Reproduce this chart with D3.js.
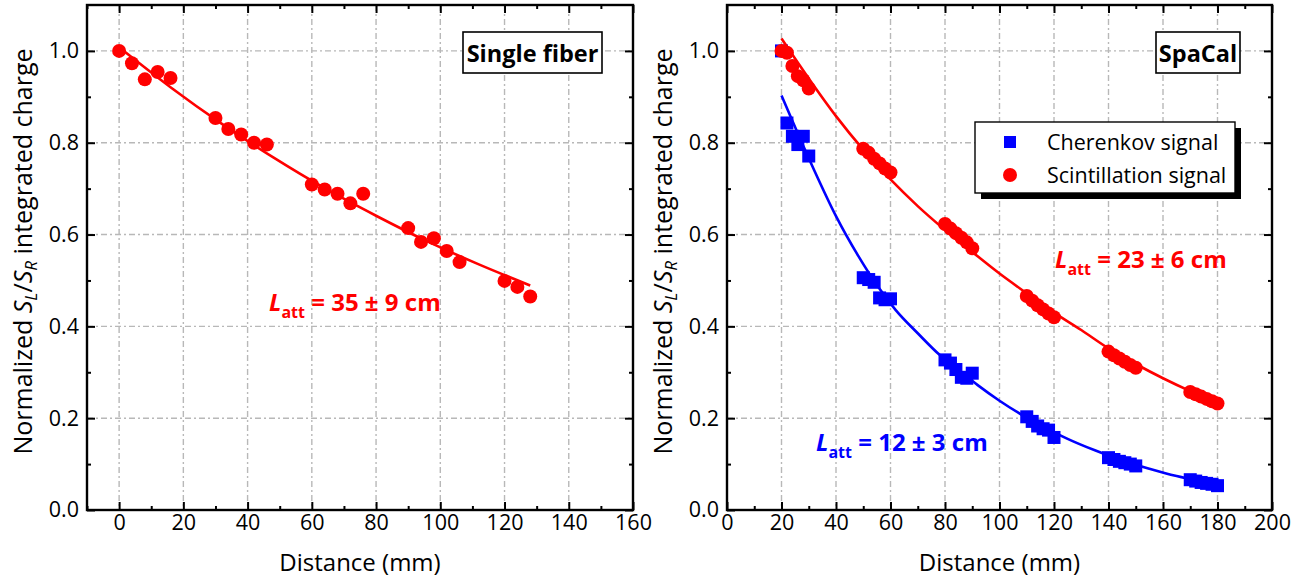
<!DOCTYPE html>
<html>
<head>
<meta charset="utf-8">
<script src="https://cdn.jsdelivr.net/npm/d3@7"></script>
<style>
  html, body { margin: 0; padding: 0; background: #fff; }
  svg { display: block; font-family: 'Open Sans', sans-serif; }
</style>
</head>
<body>
<svg id="chart" width="1313" height="585"></svg>
<script>
// ---- data ----
// single fiber
const fiberDist = [0, 4, 8, 12, 16, 30, 34, 38, 42, 46, 60, 64, 68, 72, 76, 90, 94, 98, 102, 106, 120, 124, 128];
const fiberVal = [1.0, 0.973, 0.938, 0.954, 0.941, 0.854, 0.83, 0.818, 0.8, 0.796, 0.709, 0.698, 0.689, 0.668, 0.689, 0.614, 0.584, 0.592, 0.564, 0.54, 0.499, 0.486, 0.465];
const fiberFitDist = [0, 16, 32, 48, 64, 80, 96, 112, 128];
const fiberFitVal = [1.008, 0.921, 0.841, 0.768, 0.701, 0.641, 0.585, 0.535, 0.489];

// SpaCal
const spacalDist = [20, 22, 24, 26, 28, 30, 50, 52, 54, 56, 58, 60, 80, 82, 84, 86, 88, 90,
                    110, 112, 114, 116, 118, 120, 140, 142, 144, 146, 148, 150, 170, 172, 174, 176, 178, 180];
const scintVal = [1.0, 0.996, 0.967, 0.945, 0.936, 0.918, 0.787, 0.778, 0.765, 0.755, 0.744, 0.735,
                  0.623, 0.613, 0.603, 0.593, 0.583, 0.57, 0.466, 0.456, 0.446, 0.437, 0.428, 0.42,
                  0.345, 0.337, 0.33, 0.323, 0.316, 0.31, 0.257, 0.252, 0.247, 0.242, 0.237, 0.232];
const cherVal = [1.0, 0.843, 0.814, 0.796, 0.814, 0.771, 0.506, 0.502, 0.496, 0.462, 0.458, 0.46,
                 0.327, 0.32, 0.306, 0.289, 0.287, 0.298, 0.203, 0.193, 0.183, 0.177, 0.174, 0.158,
                 0.114, 0.11, 0.106, 0.103, 0.1, 0.096, 0.066, 0.063, 0.06, 0.058, 0.056, 0.053];
const scintFitDist = [20, 30, 40, 50, 60, 70, 80, 90, 100, 110, 120, 130, 140, 150, 160, 170, 180];
const scintFitVal = [1.027, 0.94, 0.858, 0.785, 0.72, 0.662, 0.61, 0.562, 0.515, 0.472, 0.43, 0.392, 0.352, 0.318, 0.287, 0.259, 0.234];
const cherFitDist = [20, 26, 32, 40, 48, 55, 62, 70, 78, 85, 92, 100, 108, 115, 125, 135, 145, 155, 165, 175, 180];
const cherFitVal = [0.903, 0.82, 0.74, 0.64, 0.555, 0.49, 0.435, 0.385, 0.338, 0.305, 0.272, 0.238, 0.208, 0.185, 0.155, 0.13, 0.108, 0.09, 0.074, 0.061, 0.055];

// ticks
const yMajor = [0, 0.2, 0.4, 0.6, 0.8, 1.0];
const yMinor = [0.1, 0.3, 0.5, 0.7, 0.9];
const fiberXMajor = [0, 20, 40, 60, 80, 100, 120, 140, 160];
const fiberXMinor = [-10, 10, 30, 50, 70, 90, 110, 130, 150];
const spacalXMajor = [0, 20, 40, 60, 80, 100, 120, 140, 160, 180, 200];
const spacalXMinor = [10, 30, 50, 70, 90, 110, 130, 150, 170, 190];

const RED = "#ff0000", BLUE = "#0000ff", GRID = "#b8b8b8";
const TOP = 5, BOTTOM = 510;
const svg = d3.select("#chart");

function panel(o) {
  const x = d3.scaleLinear().domain(o.xDomain).range([o.left, o.right]);
  const y = d3.scaleLinear().domain([0, 1.1]).range([BOTTOM, TOP]);
  const g = svg.append("g");

  // dash-dot grid
  const grid = g.append("g").attr("stroke", GRID).attr("stroke-width", 1.4)
    .attr("stroke-dasharray", "6,3,2,3").attr("fill", "none");
  grid.selectAll(".gx").data(o.xMajor.filter(v => v > o.xDomain[0] && v < o.xDomain[1]))
    .join("line").attr("x1", d => x(d)).attr("x2", d => x(d)).attr("y1", TOP).attr("y2", BOTTOM);
  grid.selectAll(".gy").data(yMajor.filter(v => v > 0))
    .join("line").attr("y1", d => y(d)).attr("y2", d => y(d)).attr("x1", o.left).attr("x2", o.right);

  // axes, ticks pointing inward
  const tickStyle = sel => {
    sel.select(".domain").remove();
    sel.selectAll(".tick line").attr("stroke", "#000").attr("stroke-width", 2);
    sel.selectAll("text").attr("font-size", 21.5).attr("fill", "#000").attr("font-family", "'Open Sans', sans-serif");
  };
  g.append("g").attr("transform", `translate(0,${BOTTOM})`)
    .call(d3.axisBottom(x).tickValues(o.xMajor).tickSize(-8).tickPadding(5).tickFormat(d3.format("d")))
    .call(tickStyle);
  g.append("g").attr("transform", `translate(0,${BOTTOM})`)
    .call(d3.axisBottom(x).tickValues(o.xMinor).tickSize(-4).tickFormat("")).call(tickStyle);
  g.append("g").attr("transform", `translate(0,${TOP})`)
    .call(d3.axisTop(x).tickValues(o.xMajor).tickSize(-8).tickFormat("")).call(tickStyle);
  g.append("g").attr("transform", `translate(0,${TOP})`)
    .call(d3.axisTop(x).tickValues(o.xMinor).tickSize(-4).tickFormat("")).call(tickStyle);
  g.append("g").attr("transform", `translate(${o.left},0)`)
    .call(d3.axisLeft(y).tickValues(yMajor).tickSize(-8).tickPadding(8).tickFormat(d3.format(".1f")))
    .call(tickStyle);
  g.append("g").attr("transform", `translate(${o.left},0)`)
    .call(d3.axisLeft(y).tickValues(yMinor).tickSize(-4).tickFormat("")).call(tickStyle);
  g.append("g").attr("transform", `translate(${o.right},0)`)
    .call(d3.axisRight(y).tickValues(yMajor).tickSize(-8).tickFormat("")).call(tickStyle);
  g.append("g").attr("transform", `translate(${o.right},0)`)
    .call(d3.axisRight(y).tickValues(yMinor).tickSize(-4).tickFormat("")).call(tickStyle);

  g.append("rect").attr("x", o.left).attr("y", TOP).attr("width", o.right - o.left).attr("height", BOTTOM - TOP)
    .attr("fill", "none").attr("stroke", "#000").attr("stroke-width", 2.4);

  // axis titles
  g.append("text").attr("x", (o.left + o.right) / 2).attr("y", 571).attr("text-anchor", "middle")
    .attr("font-size", 24).text("Distance (mm)");
  const yt = g.append("text").attr("transform", `translate(${o.left - 55},${(TOP + BOTTOM) / 2 - 6}) rotate(-90)`)
    .attr("text-anchor", "middle").attr("font-size", 25);
  yt.append("tspan").text("Normalized ");
  yt.append("tspan").attr("font-style", "italic").text("S");
  yt.append("tspan").attr("font-style", "italic").attr("font-size", 17).attr("dy", 5).text("L");
  yt.append("tspan").attr("dy", -5).text("/");
  yt.append("tspan").attr("font-style", "italic").text("S");
  yt.append("tspan").attr("font-style", "italic").attr("font-size", 17).attr("dy", 5).text("R");
  yt.append("tspan").attr("dy", -5).text(" integrated charge");

  // title box
  const tb = o.titleBox;
  g.append("rect").attr("x", tb[0]).attr("y", 32).attr("width", tb[1] - tb[0]).attr("height", 41)
    .attr("fill", "#fff").attr("stroke", "#000").attr("stroke-width", 1.6);
  g.append("text").attr("x", (tb[0] + tb[1]) / 2).attr("y", 61.5).attr("text-anchor", "middle")
    .attr("font-size", 23.5).attr("font-weight", "bold").text(o.title);

  return { g, x, y };
}

function fitLine(p, xs, ys, color) {
  const line = d3.line().x(d => p.x(d[0])).y(d => p.y(d[1])).curve(d3.curveMonotoneX);
  p.g.append("path").datum(d3.zip(xs, ys)).attr("d", line)
    .attr("fill", "none").attr("stroke", color).attr("stroke-width", 2.6);
}
function circles(p, xs, ys) {
  p.g.append("g").selectAll("circle").data(d3.zip(xs, ys)).join("circle")
    .attr("cx", d => p.x(d[0])).attr("cy", d => p.y(d[1])).attr("r", 7).attr("fill", RED);
}
function squares(p, xs, ys) {
  p.g.append("g").selectAll("rect").data(d3.zip(xs, ys)).join("rect")
    .attr("x", d => p.x(d[0]) - 6.5).attr("y", d => p.y(d[1]) - 6.5)
    .attr("width", 13).attr("height", 13).attr("fill", BLUE);
}
function latt(p, px, py, value, color) {
  const t = p.g.append("text").attr("x", px).attr("y", py).attr("fill", color)
    .attr("font-size", 24).attr("font-weight", "bold");
  t.append("tspan").attr("font-style", "italic").text("L");
  t.append("tspan").attr("font-size", 16).attr("dy", 7).text("att");
  t.append("tspan").attr("dy", -7).text(" = " + value);
}

// left panel
const p1 = panel({ xDomain: [-10, 160], left: 87, right: 633, xMajor: fiberXMajor, xMinor: fiberXMinor,
                   title: "Single fiber", titleBox: [463, 602] });
fitLine(p1, fiberFitDist, fiberFitVal, RED);
circles(p1, fiberDist, fiberVal);
latt(p1, 269, 311, "35 \u00B1 9 cm", RED);

// right panel
const p2 = panel({ xDomain: [0, 200], left: 727, right: 1272, xMajor: spacalXMajor, xMinor: spacalXMinor,
                   title: "SpaCal", titleBox: [1156, 1240] });
squares(p2, spacalDist, cherVal);
fitLine(p2, cherFitDist, cherFitVal, BLUE);
circles(p2, spacalDist, scintVal);
fitLine(p2, scintFitDist, scintFitVal, RED);
latt(p2, 1055, 268, "23 \u00B1 6 cm", RED);
latt(p2, 816, 451, "12 \u00B1 3 cm", BLUE);

// legend
const lg = p2.g.append("g");
lg.append("rect").attr("x", 981).attr("y", 128).attr("width", 260).attr("height", 71).attr("fill", "#000");
lg.append("rect").attr("x", 975).attr("y", 122).attr("width", 260).attr("height", 71)
  .attr("fill", "#fff").attr("stroke", "#000").attr("stroke-width", 1.4);
const legendItems = ["Cherenkov signal", "Scintillation signal"];
lg.append("rect").attr("x", 1004).attr("y", 136).attr("width", 12).attr("height", 12).attr("fill", BLUE);
lg.append("circle").attr("cx", 1010).attr("cy", 175).attr("r", 7).attr("fill", RED);
lg.selectAll("text.item").data(legendItems).join("text").attr("class", "item")
  .attr("x", 1047).attr("y", (d, i) => 150 + i * 33).attr("font-size", 21.5).text(d => d);
</script>
</body>
</html>
